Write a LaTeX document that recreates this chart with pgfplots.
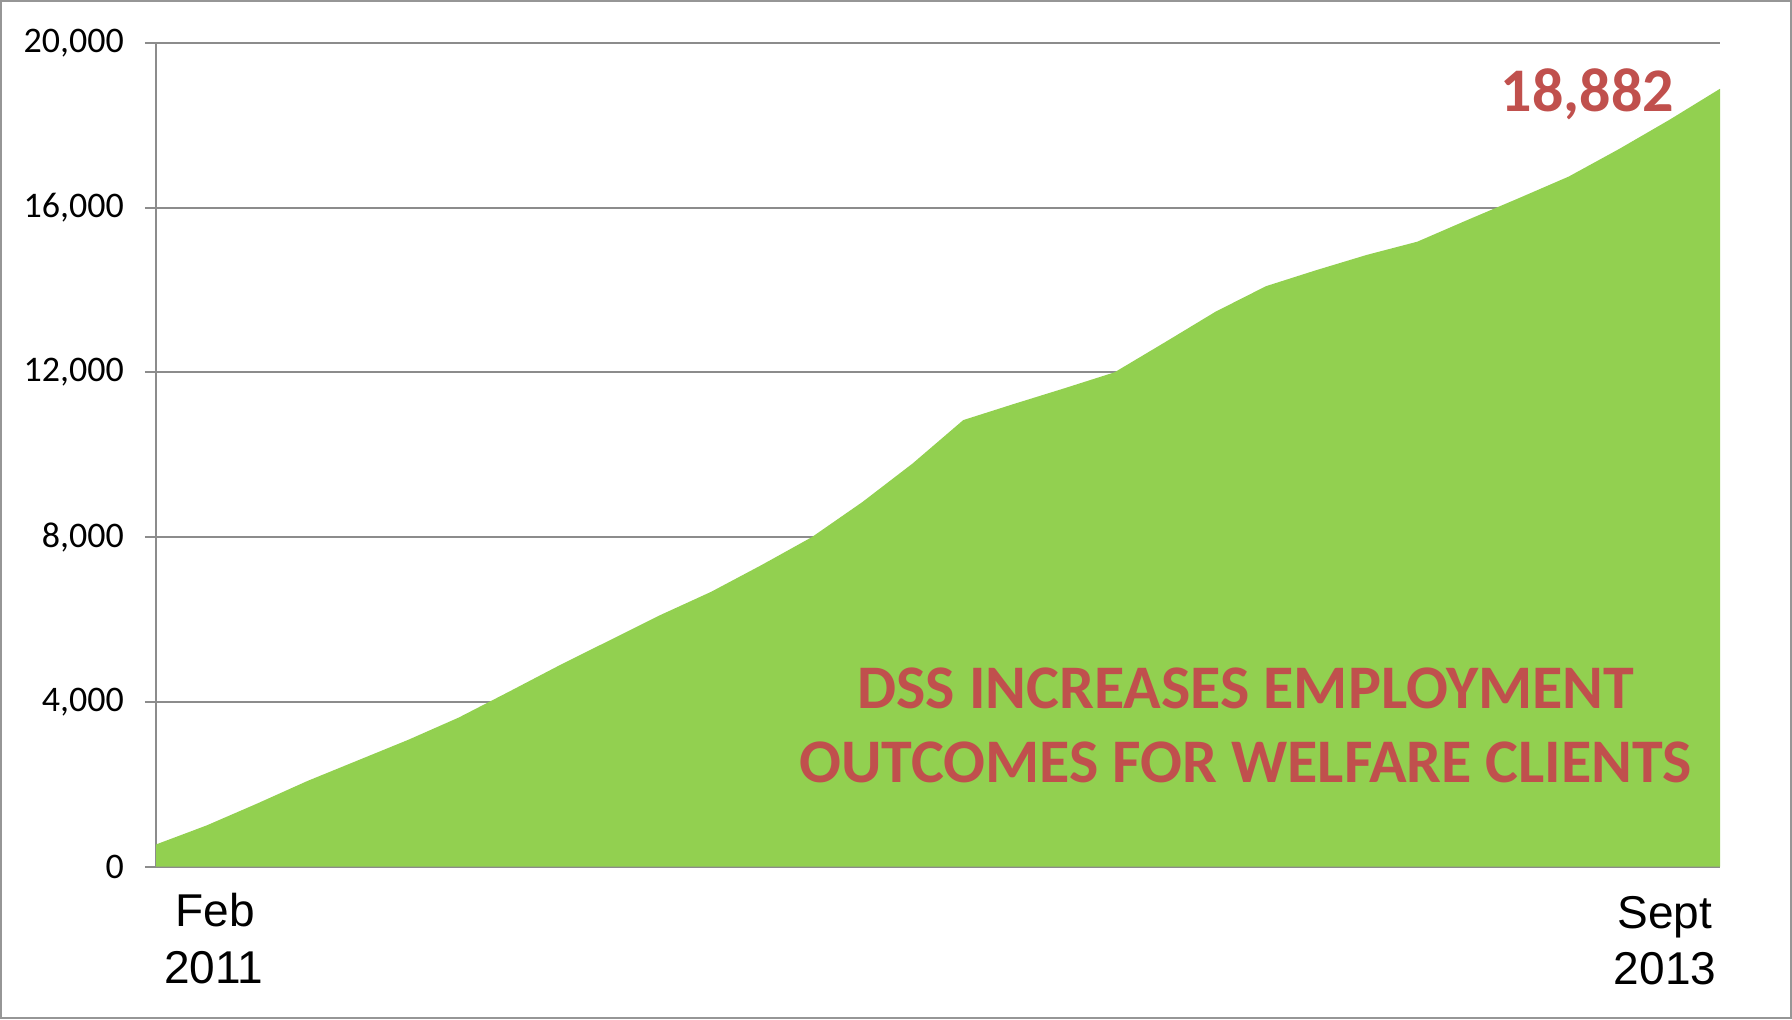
\documentclass[border=0pt]{standalone}
\usepackage{pgfplots}
\pgfplotsset{compat=1.18}
\usepackage{pgfplotstable}
\usepackage{fontspec}
\setmainfont{Carlito}
\newfontfamily\arial{Liberation Sans}

\definecolor{areagreen}{RGB}{146,208,80}
\definecolor{txtred}{RGB}{192,80,77}
\definecolor{gridgray}{RGB}{140,140,140}
\definecolor{framegray}{RGB}{150,150,150}

% monthly totals, Feb 2011 (0) to Sept 2013 (31)
\pgfplotstableread{
m total
0 540
1 1000
2 1530
3 2080
4 2580
5 3080
6 3620
7 4250
8 4890
9 5500
10 6110
11 6670
12 7320
13 8000
14 8850
15 9790
16 10840
17 11230
18 11610
19 12000
20 12730
21 13470
22 14090
23 14480
24 14850
25 15170
26 15700
27 16220
28 16750
29 17420
30 18130
31 18882
}\employment

\begin{document}
\begin{tikzpicture}
\draw[framegray, line width=1.2pt] (0.6pt,0.6pt) rectangle (895.4pt,508.9pt);
\begin{axis}[
    at={(78pt,76.15pt)}, anchor=south west,
    scale only axis,
    width=782pt, height=412pt,
    xmin=0, xmax=31,
    ymin=0, ymax=20000,
    ytick={0,4000,...,20000},
    xtick=\empty,
    axis lines=left,
    axis line style={-, gridgray, line width=1pt},
    ymajorgrids,
    major grid style={gridgray, line width=1pt},
    major tick style={gridgray, line width=1pt},
    tick align=outside,
    major tick length=5.5pt,
    scaled ticks=false,
    yticklabel style={font=\fontsize{18}{21}\selectfont, text=black, xshift=-7pt},
    /pgf/number format/.cd, 1000 sep={,}, assume math mode=true,
    /pgfplots/.cd,
    clip=false,
]
\addplot[fill=areagreen, draw=none] table[x=m, y=total] {\employment} \closedcycle;

\node[anchor=base, text=txtred, font=\fontsize{31}{36}\selectfont\bfseries] at (axis cs:28.37,18325) {18,882};
\node[anchor=base, text=txtred, font=\fontsize{31}{36}\selectfont\bfseries] at (axis cs:21.6,3837) {DSS INCREASES EMPLOYMENT};
\node[anchor=base, text=txtred, font=\fontsize{31}{36}\selectfont\bfseries] at (axis cs:21.6,2034) {OUTCOMES\ FOR WELFARE CLIENTS};

\node[anchor=base, font=\arial\fontsize{23}{28}\selectfont] at (axis cs:1.17,-1456) {Feb};
\node[anchor=base, font=\arial\fontsize{23}{28}\selectfont] at (axis cs:1.14,-2823) {2011};
\node[anchor=base, font=\arial\fontsize{23}{28}\selectfont] at (axis cs:29.91,-1488) {Sept};
\node[anchor=base, font=\arial\fontsize{23}{28}\selectfont] at (axis cs:29.91,-2871) {2013};
\end{axis}
\end{tikzpicture}
\end{document}
